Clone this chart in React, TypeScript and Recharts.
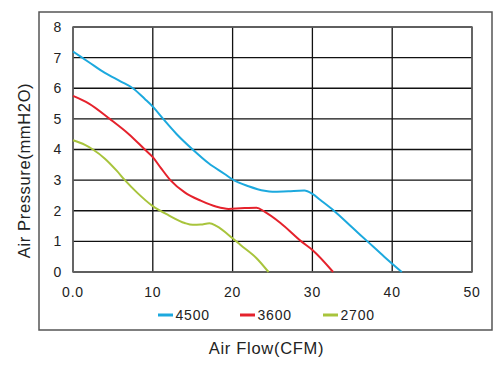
import React from 'react';
import { LineChart, Line, XAxis, YAxis, CartesianGrid, ReferenceArea } from 'recharts';

const seriesNames = ['4500', '3600', '2700'];
const seriesColors = ['#1CA9DE', '#E5222C', '#A8C43C'];

const flow4500 = [0, 2, 4, 6, 7.5, 9, 10, 11.3, 13, 15, 17, 19, 20, 22, 24, 25, 27, 29, 30, 31, 32.7, 35, 36.9, 39, 41.2];
const press4500 = [7.2, 6.85, 6.5, 6.22, 6.0, 5.65, 5.4, 5.0, 4.5, 4.0, 3.55, 3.2, 3.02, 2.8, 2.65, 2.62, 2.64, 2.66, 2.55, 2.35, 2.0, 1.45, 1.0, 0.5, 0];

const flow3600 = [0, 2, 4.6, 7, 9, 10, 11, 12.2, 14, 16, 18, 19.5, 21, 23, 24, 26, 28.6, 30, 32.6];
const press3600 = [5.75, 5.5, 5.0, 4.5, 4.0, 3.75, 3.4, 3.0, 2.6, 2.33, 2.13, 2.06, 2.08, 2.1, 1.97, 1.6, 1.0, 0.72, 0];

const flow2700 = [0, 1.5, 2.5, 4, 5.5, 6.5, 8, 10, 12, 14, 15, 16, 17.1, 18, 20, 21, 23, 24.5];
const press2700 = [4.3, 4.15, 4.0, 3.7, 3.3, 3.0, 2.6, 2.15, 1.85, 1.6, 1.54, 1.55, 1.59, 1.5, 1.1, 0.88, 0.45, 0];

const xTicks = [0, 10, 20, 30, 40, 50];
const xTickLabels = ['0.0', '10', '20', '30', '40', '50'];
const yTicks = [0, 1, 2, 3, 4, 5, 6, 7, 8];

const xTitle = 'Air Flow(CFM)';
const yTitle = 'Air Pressure(mmH2O)';

const toData = (xs: number[], ys: number[]) => xs.map((x, i) => ({ x, y: ys[i] }));
const seriesData = [toData(flow4500, press4500), toData(flow3600, press3600), toData(flow2700, press2700)];

const FONT = '"Liberation Sans", Arial, sans-serif';

export default function App() {
  return (
    <div style={{ position: 'absolute', left: 0, top: 0, width: 498, height: 369, background: '#fff', fontFamily: FONT }}>
      <svg width={498} height={369} style={{ position: 'absolute', left: 0, top: 0 }}>
        <rect x={39} y={12} width={453} height={318} fill="none" stroke="#555" strokeWidth={1.5} />
      </svg>
      <div style={{ position: 'absolute', left: 0, top: 0 }}>
        <LineChart width={498} height={369} margin={{ top: 27, right: 26, bottom: 67, left: 38 }}>
          <CartesianGrid stroke="#111" strokeWidth={1.3} />
          <ReferenceArea x1={0} x2={50} y1={0} y2={8} fill="none" stroke="#666" strokeWidth={1.5} ifOverflow="visible" />
          <XAxis
            type="number"
            dataKey="x"
            domain={[0, 50]}
            ticks={xTicks}
            tickFormatter={(v: number) => xTickLabels[xTicks.indexOf(v)]}
            axisLine={false}
            tickLine={false}
            tickSize={0}
            tickMargin={15}
            height={30}
            interval={0}
            tick={{ fill: '#222', fontSize: 14, fontFamily: FONT, letterSpacing: 0.8 }}
            allowDuplicatedCategory={false}
          />
          <YAxis
            type="number"
            domain={[0, 8]}
            ticks={yTicks}
            axisLine={false}
            tickLine={false}
            tickSize={0}
            tickMargin={11}
            width={35}
            interval={0}
            tick={{ fill: '#222', fontSize: 14, fontFamily: FONT, letterSpacing: 0.8 }}
          />
          {seriesData.map((d, i) => (
            <Line
              key={seriesNames[i]}
              data={d}
              dataKey="y"
              type="monotone"
              stroke={seriesColors[i]}
              strokeWidth={2}
              dot={false}
              activeDot={false}
              isAnimationActive={false}
            />
          ))}
        </LineChart>
      </div>
      <svg width={498} height={369} style={{ position: 'absolute', left: 0, top: 0, pointerEvents: 'none' }}>
        <text x={266.5} y={354} textAnchor="middle" fontSize={16.5} letterSpacing={0.7} fill="#222" fontFamily={FONT}>
          {xTitle}
        </text>
        <text
          x={29.5}
          y={170.5}
          textAnchor="middle"
          fontSize={16.5}
          letterSpacing={0.65}
          fill="#222"
          fontFamily={FONT}
          transform="rotate(-90 29.5 170.5)"
          dy={0}
        >
          {yTitle}
        </text>
        {seriesNames.map((n, i) => {
          const lx = [158, 240, 323][i];
          return (
            <g key={n}>
              <line x1={lx} x2={lx + 15} y1={315} y2={315} stroke={seriesColors[i]} strokeWidth={3} />
              <text x={lx + 17.5} y={320} fontSize={14} letterSpacing={0.8} fill="#222" fontFamily={FONT}>
                {n}
              </text>
            </g>
          );
        })}
      </svg>
    </div>
  );
}
